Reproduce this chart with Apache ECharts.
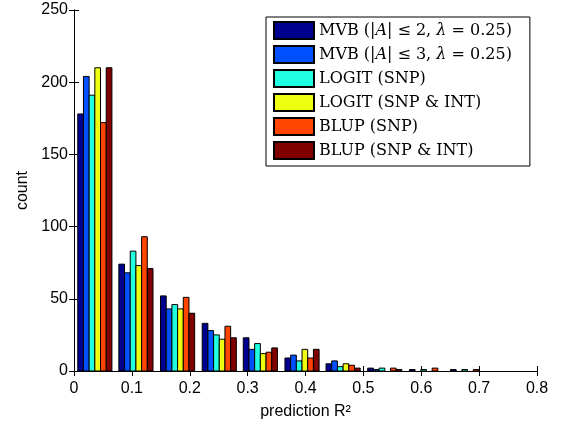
<!DOCTYPE html>
<html>
<head>
<meta charset="utf-8">
<script src="https://cdn.jsdelivr.net/npm/echarts@6/dist/echarts.min.js"></script>
<style>
  html, body { margin: 0; padding: 0; background: #fff; }
  #chart { width: 564px; height: 425px; }
</style>
</head>
<body>
<div id="chart"></div>
<script>
// histogram bin centres (prediction R^2)
const binCenters = [0.036, 0.107, 0.179, 0.251, 0.322, 0.394, 0.465, 0.537, 0.609, 0.680];

const seriesNames = [
  'MVB (|A| ≤ 2, λ = 0.25)',
  'MVB (|A| ≤ 3, λ = 0.25)',
  'LOGIT (SNP)',
  'LOGIT (SNP & INT)',
  'BLUP (SNP)',
  'BLUP (SNP & INT)'
];

// counts per bin
const mvb2 = [178, 74, 52, 33, 23, 9, 5, 2, 1, 1];
const mvb3 = [204, 68, 43, 28, 15, 11, 7, 1, 0, 0];
const logitSnp = [191, 83, 46, 25, 19, 7, 3, 2, 1, 1];
const logitInt = [210, 73, 43, 22, 12, 15, 5, 0, 0, 0];
const blupSnp = [172, 93, 51, 31, 13, 9, 4, 2, 2, 1];
const blupInt = [210, 71, 40, 23, 16, 15, 2, 1, 0, 0];

const xTicks = [0, 0.1, 0.2, 0.3, 0.4, 0.5, 0.6, 0.7, 0.8];
const yTicks = [0, 50, 100, 150, 200, 250];

const allCounts = [mvb2, mvb3, logitSnp, logitInt, blupSnp, blupInt];
const colors = ['#00008f', '#0050ff', '#20ffdf', '#efff10', '#ff4500', '#800000'];

const groupWidth = 0.059;  // in x units
const nSeries = allCounts.length;

let Chart = echarts.init(document.getElementById('chart'));

const axisFont = { fontFamily: 'Liberation Sans', fontSize: 16, color: '#000' };

function makeSeries(idx) {
  return {
    name: seriesNames[idx],
    type: 'custom',
    itemStyle: { color: colors[idx], borderColor: '#000', borderWidth: 1 },
    data: binCenters.map((c, k) => [c, allCounts[idx][k]]),
    renderItem: (params, api) => {
      let x = api.value(0), y = api.value(1);
      if (!y) return null;
      let base = api.coord([x, 0]);
      let top = api.coord([x, y]);
      let w = api.size([groupWidth / nSeries, 0])[0];
      let left = base[0] + (idx - nSeries / 2) * w;
      return {
        type: 'rect',
        shape: { x: left, y: top[1], width: w, height: base[1] - top[1] },
        style: { fill: colors[idx], stroke: '#000', lineWidth: 1 }
      };
    }
  };
}

let option = {
  animation: false,
  grid: { left: 74, right: 27, top: 10, bottom: 53 },
  legend: {
    orient: 'vertical',
    left: 266,
    top: 17,
    padding: [4, 18, 6, 7],
    itemWidth: 40,
    itemHeight: 17,
    itemGap: 5,
    icon: 'rect',
    borderColor: '#000',
    borderWidth: 1,
    backgroundColor: '#fff',
    data: seriesNames,
    formatter: (name) => name.replace('|A|', '|{i|A}|').replace('λ', '{i|λ}'),
    textStyle: {
      fontFamily: 'DejaVu Serif',
      fontSize: 16,
      color: '#000',
      rich: { i: { fontFamily: 'DejaVu Serif', fontStyle: 'italic', fontSize: 16, color: '#000' } }
    }
  },
  xAxis: [{
    type: 'value',
    min: xTicks[0],
    max: xTicks[xTicks.length - 1],
    interval: 0.1,
    name: 'prediction R²',
    nameLocation: 'middle',
    nameGap: 33,
    nameTextStyle: axisFont,
    axisLine: { show: true, lineStyle: { color: '#000', width: 1 } },
    axisTick: { show: true, inside: true, length: 5, lineStyle: { color: '#000' } },
    axisLabel: Object.assign({ margin: 10, formatter: (v) => String(Math.round(v * 10) / 10) }, axisFont),
    splitLine: { show: false }
  }, {
    type: 'value',
    position: 'top',
    min: xTicks[0],
    max: xTicks[xTicks.length - 1],
    interval: 0.1,
    axisLine: { show: true, lineStyle: { color: '#000', width: 1 } },
    axisTick: { show: true, inside: true, length: 5, lineStyle: { color: '#000' } },
    axisLabel: { show: false },
    splitLine: { show: false }
  }],
  yAxis: [{
    type: 'value',
    min: yTicks[0],
    max: yTicks[yTicks.length - 1],
    interval: 50,
    name: 'count',
    nameLocation: 'middle',
    nameGap: 42,
    nameTextStyle: axisFont,
    axisLine: { show: true, lineStyle: { color: '#000', width: 1 } },
    axisTick: { show: true, inside: true, length: 5, lineStyle: { color: '#000' } },
    axisLabel: Object.assign({ margin: 6 }, axisFont),
    splitLine: { show: false }
  }, {
    type: 'value',
    position: 'right',
    min: yTicks[0],
    max: yTicks[yTicks.length - 1],
    interval: 50,
    axisLine: { show: true, lineStyle: { color: '#000', width: 1 } },
    axisTick: { show: true, inside: true, length: 5, lineStyle: { color: '#000' } },
    axisLabel: { show: false },
    splitLine: { show: false }
  }],
  series: allCounts.map((_, i) => makeSeries(i))
};

Chart.setOption(option);
</script>
</body>
</html>
